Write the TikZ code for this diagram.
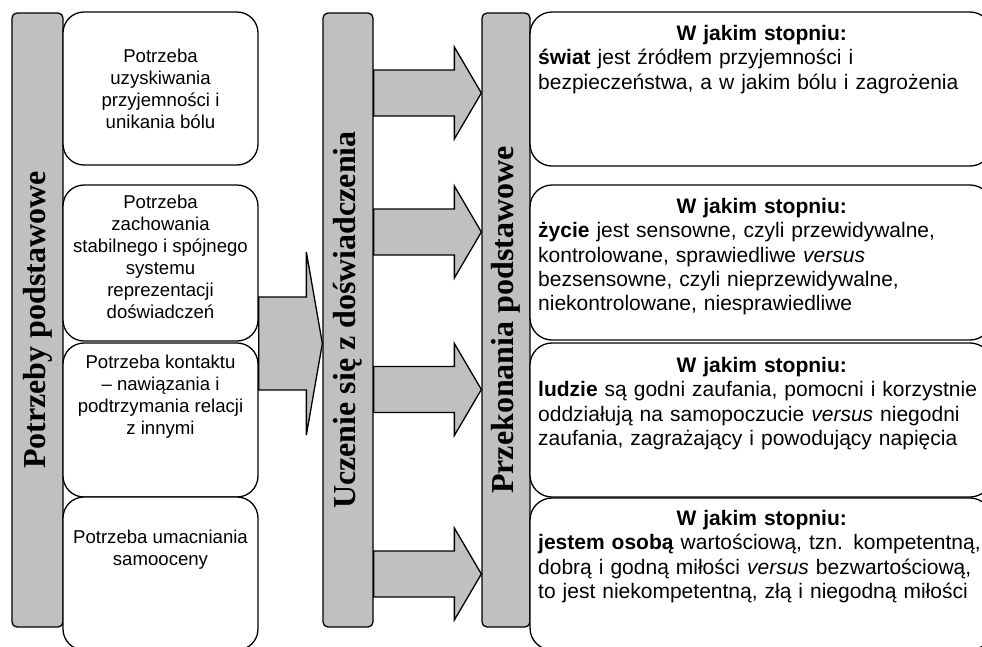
\documentclass[tikz,border=0pt]{standalone}
\usepackage{fontspec}
\setmainfont{Liberation Sans}
\newfontfamily\barserif{Liberation Serif}
\usetikzlibrary{calc}
\definecolor{barfill}{RGB}{192,192,192}
\newcommand\blkarrow[5]{%
  \draw[arrowbox] let \p1=(#1), \p2=(#2) in
    (\x1,\y2+#3) -- (\x2-#5,\y2+#3) -- (\x2-#5,\y2+#4) -- (\x2,\y2)
    -- (\x2-#5,\y2-#4) -- (\x2-#5,\y2-#3) -- (\x1,\y2-#3) -- cycle;}
\begin{document}
\begin{tikzpicture}[x=1pt,y=-1pt,
  grbar/.style={draw=black, line width=1.3pt, fill=barfill, rounded corners=5pt,
    rotate=90, minimum width=614pt, inner sep=0pt,
    font=\barserif\bfseries\fontsize{32}{38}\selectfont},
  lbox/.style={draw=black, line width=1.3pt, fill=white, rounded corners=21pt,
    minimum width=195pt, inner sep=0pt},
  rbox/.style={draw=black, line width=1.3pt, fill=white, rounded corners=22pt,
    minimum width=462pt, inner sep=0pt},
  ltext/.style={align=center, inner sep=0pt, font=\fontsize{18.6}{22}\selectfont},
  rtext/.style={anchor=north west, align=left, text width=447pt, inner sep=0pt,
    font=\fontsize{21}{24.3}\selectfont},
  arrowbox/.style={draw=black, line width=1.3pt, fill=barfill, line join=miter}]
\useasboundingbox (0,0) rectangle (982,646);
\fill[white] (0,0) rectangle (982,646);
\clip (0,0) rectangle (982,646);

% gray bars
\node[grbar, minimum height=51pt] (potrz) at (37.5,320) {Potrzeby podstawowe};
\node[grbar, minimum height=50pt] (ucz) at (348,320) {Uczenie się z doświadczenia};
\node[grbar, minimum height=48pt] (prz) at (506,320) {Przekonania podstawowe};

% left boxes
\node[lbox, minimum height=153pt] (lb1) at (160.5,88.5) {};
\node[lbox, minimum height=156pt] (lb2) at (160.5,263) {};
\node[lbox, minimum height=154pt] (lb3) at (160.5,420) {};
\node[lbox, minimum height=153pt] (lb4) at (160.5,573.5) {};

\node[ltext] (lt1) at (160.5,89) {Potrzeba\\uzyskiwania\\przyjemności i\\unikania bólu};
\node[ltext] (lt2) at (160.5,256.5) {Potrzeba\\zachowania\\stabilnego i spójnego\\systemu\\reprezentacji\\doświadczeń};
\node[ltext] (lt3) at (160.5,397) {Potrzeba kontaktu\\– nawiązania i\\podtrzymania relacji\\z innymi};
\node[ltext] (lt4) at (160.5,549.5) {Potrzeba umacniania\\samooceny};

% right boxes
\node[rbox, minimum height=154pt] (rb1) at (761,89) {};
\node[rbox, minimum height=155pt] (rb2) at (761,262.5) {};
\node[rbox, minimum height=154pt] (rb3) at (761,420) {};
\node[rbox, minimum height=152pt] (rb4) at (761,574) {};

\node[rtext] (rt1) at (538,25) {\makebox[\linewidth][c]{\textbf{W jakim stopniu:}}\\
  \textbf{świat} jest źródłem przyjemności i\\
  bezpieczeństwa, a w jakim bólu i zagrożenia};
\node[rtext] (rt2) at (538,198) {\makebox[\linewidth][c]{\textbf{W jakim stopniu:}}\\
  \textbf{życie} jest sensowne, czyli przewidywalne,\\
  kontrolowane, sprawiedliwe \textit{versus}\\
  bezsensowne, czyli nieprzewidywalne,\\
  niekontrolowane, niesprawiedliwe};
\node[rtext] (rt3) at (538,357) {\makebox[\linewidth][c]{\textbf{W jakim stopniu:}}\\
  \textbf{ludzie} są godni zaufania, pomocni i korzystnie\\
  oddziałują na samopoczucie \textit{versus} niegodni\\
  zaufania, zagrażający i powodujący napięcia};
\node[rtext] (rt4) at (538,510) {\makebox[\linewidth][c]{\textbf{W jakim stopniu:}}\\
  \makebox[\linewidth][s]{\textbf{jestem osobą} wartościową, tzn. kompetentną,}\\
  \makebox[\linewidth][s]{dobrą i godną miłości \textit{versus} bezwartościową,}\\
  to jest niekompetentną, złą i niegodną miłości};

% arrows
\coordinate (ya) at (0,343.5);
\coordinate (y1) at (0,93);
\coordinate (y2) at (0,232);
\coordinate (y3) at (0,389.5);
\coordinate (y4) at (0,574);
\blkarrow{lb2.east |- ya}{ucz.north |- ya}{46.5pt}{91.5pt}{16pt}
\blkarrow{ucz.south |- y1}{prz.north |- y1}{23pt}{46pt}{27pt}
\blkarrow{ucz.south |- y2}{prz.north |- y2}{23pt}{46pt}{27pt}
\blkarrow{ucz.south |- y3}{prz.north |- y3}{23pt}{46pt}{27pt}
\blkarrow{ucz.south |- y4}{prz.north |- y4}{23pt}{46pt}{27pt}
\end{tikzpicture}
\end{document}
